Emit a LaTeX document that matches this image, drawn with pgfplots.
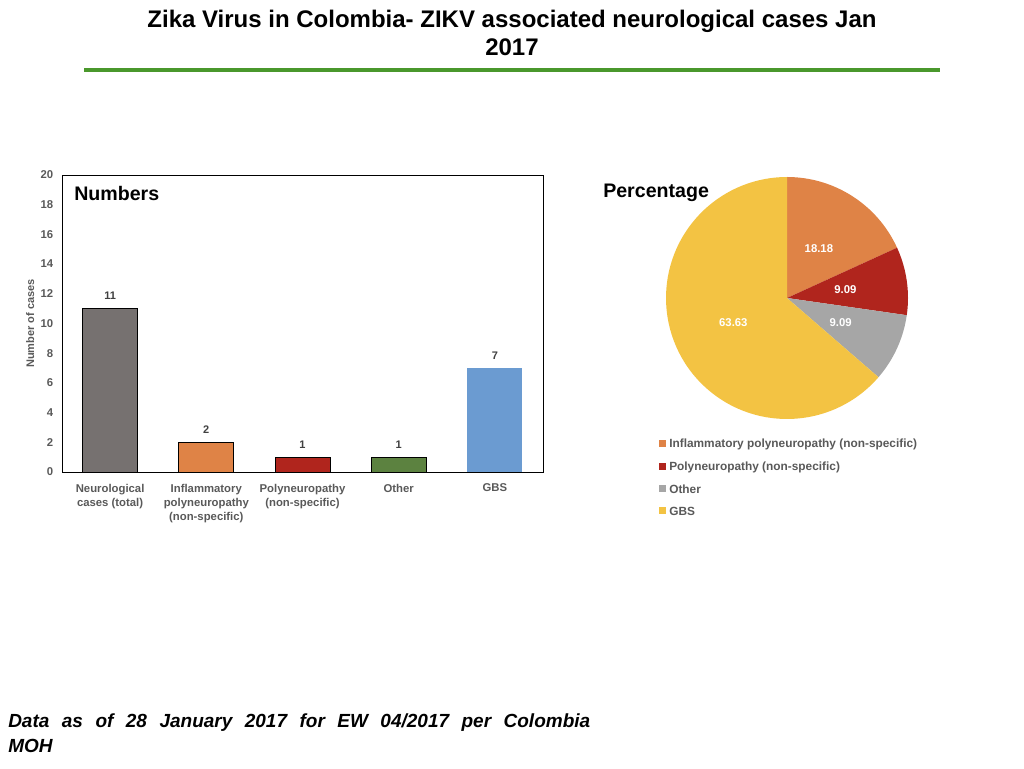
\documentclass[border=0pt]{standalone}
\usepackage{pgfplots}
\pgfplotsset{compat=1.18}
\usepackage{fontspec}
\setmainfont{Liberation Sans}
\definecolor{zgreen}{RGB}{74,152,44}
\definecolor{bgray}{RGB}{118,113,112}
\definecolor{borange}{RGB}{223,131,70}
\definecolor{bred}{RGB}{176,37,29}
\definecolor{bgreen}{RGB}{92,130,64}
\definecolor{bblue}{RGB}{107,155,209}
\definecolor{pgray}{RGB}{166,166,166}
\definecolor{pyellow}{RGB}{243,195,67}
\definecolor{tgray}{RGB}{89,89,89}
\definecolor{dgray}{RGB}{64,64,64}
\begin{document}
\begin{tikzpicture}[x=0.75pt,y=0.75pt]
\path[use as bounding box] (0,0) rectangle (1024,768);
% title
\node[font=\fontsize{18}{21}\selectfont\bfseries, align=center] at (512,735)
  {Zika Virus in Colombia- ZIKV associated neurological cases Jan\\2017};
\draw[color=zgreen, line width=3pt] (84,698) -- (940,698);

% bar chart
\begin{axis}[at={(46.5pt,222pt)}, anchor=south west, scale only axis,
  width=360.75pt, height=222.75pt,
  ybar, bar shift=0pt, bar width=0.57,
  xmin=-0.5, xmax=4.5, ymin=0, ymax=20,
  ytick={0,2,...,20}, xtick={0,1,2,3,4},
  xticklabels={{Neurological\\cases (total)},{Inflammatory\\polyneuropathy\\(non-specific)},{Polyneuropathy\\(non-specific)},{Other},{GBS}},
  major tick length=0pt,
  axis line style={black, line width=0.6pt},
  tick label style={font=\fontsize{8.5}{10.5}\selectfont\bfseries, text=tgray},
  xticklabel style={align=center, anchor=north, yshift=-5.5pt},
  yticklabel style={xshift=-3pt},
  /pgf/number format/assume math mode=true,
  ylabel={Number of cases},
  ylabel style={at={(axis description cs:-0.066,0.5)}, anchor=center,
    font=\fontsize{8.25}{10}\selectfont\bfseries, text=tgray},
  nodes near coords,
  every node near coord/.append style={font=\fontsize{8.25}{10}\selectfont\bfseries, text=dgray, yshift=3pt},
  clip=false,
]
\addplot[fill=bgray, draw=black, line width=0.6pt] coordinates {(0,11)};
\addplot[fill=borange, draw=black, line width=0.6pt] coordinates {(1,2)};
\addplot[fill=bred, draw=black, line width=0.6pt] coordinates {(2,1)};
\addplot[fill=bgreen, draw=black, line width=0.6pt] coordinates {(3,1)};
\addplot[fill=bblue, draw=none] coordinates {(4,7)};
\end{axis}
\node[anchor=west, font=\fontsize{14.7}{17}\selectfont\bfseries, inner sep=0] at (74,575) {Numbers};

% pie chart
\node[anchor=west, font=\fontsize{14.7}{17}\selectfont\bfseries, inner sep=0] at (603,575) {Percentage};
\foreach \s/\e/\c/\t in {0/18.18/borange/18.18, 18.18/27.27/bred/9.09, 27.27/36.36/pgray/9.09, 36.36/100/pyellow/63.63} {
  \fill[\c] (787,470) -- ++({90-3.6*\s}:121) arc[start angle={90-3.6*\s}, end angle={90-3.6*\e}, radius=121] -- cycle;
}
\foreach \s/\e/\t in {0/18.18/18.18, 18.18/27.27/9.09, 27.27/36.36/9.09, 36.36/100/63.63} {
  \path (787,470) ++({90-1.8*(\s+\e)}:59) node[text=white, font=\fontsize{8.5}{10}\selectfont\bfseries] {\t};
}
% legend
\foreach \y/\c/\t in {324/borange/{Inflammatory polyneuropathy (non-specific)}, 301/bred/{Polyneuropathy (non-specific)}, 279/pgray/{Other}, 257/pyellow/{GBS}} {
  \fill[\c] (659,\y-3.5) rectangle (666,\y+3.5);
  \node[anchor=west, inner sep=0, text=tgray, font=\fontsize{8.9}{10}\selectfont\bfseries] at (669,\y) {\t};
}

% footnote
\node[anchor=north west, inner sep=0, text width=436.5pt, align=justify, font=\fontsize{14.25}{18.75}\selectfont\bfseries\itshape] at (8,55)
  {Data as of 28 January 2017 for EW 04/2017 per Colombia\linebreak MOH};
\end{tikzpicture}
\end{document}
